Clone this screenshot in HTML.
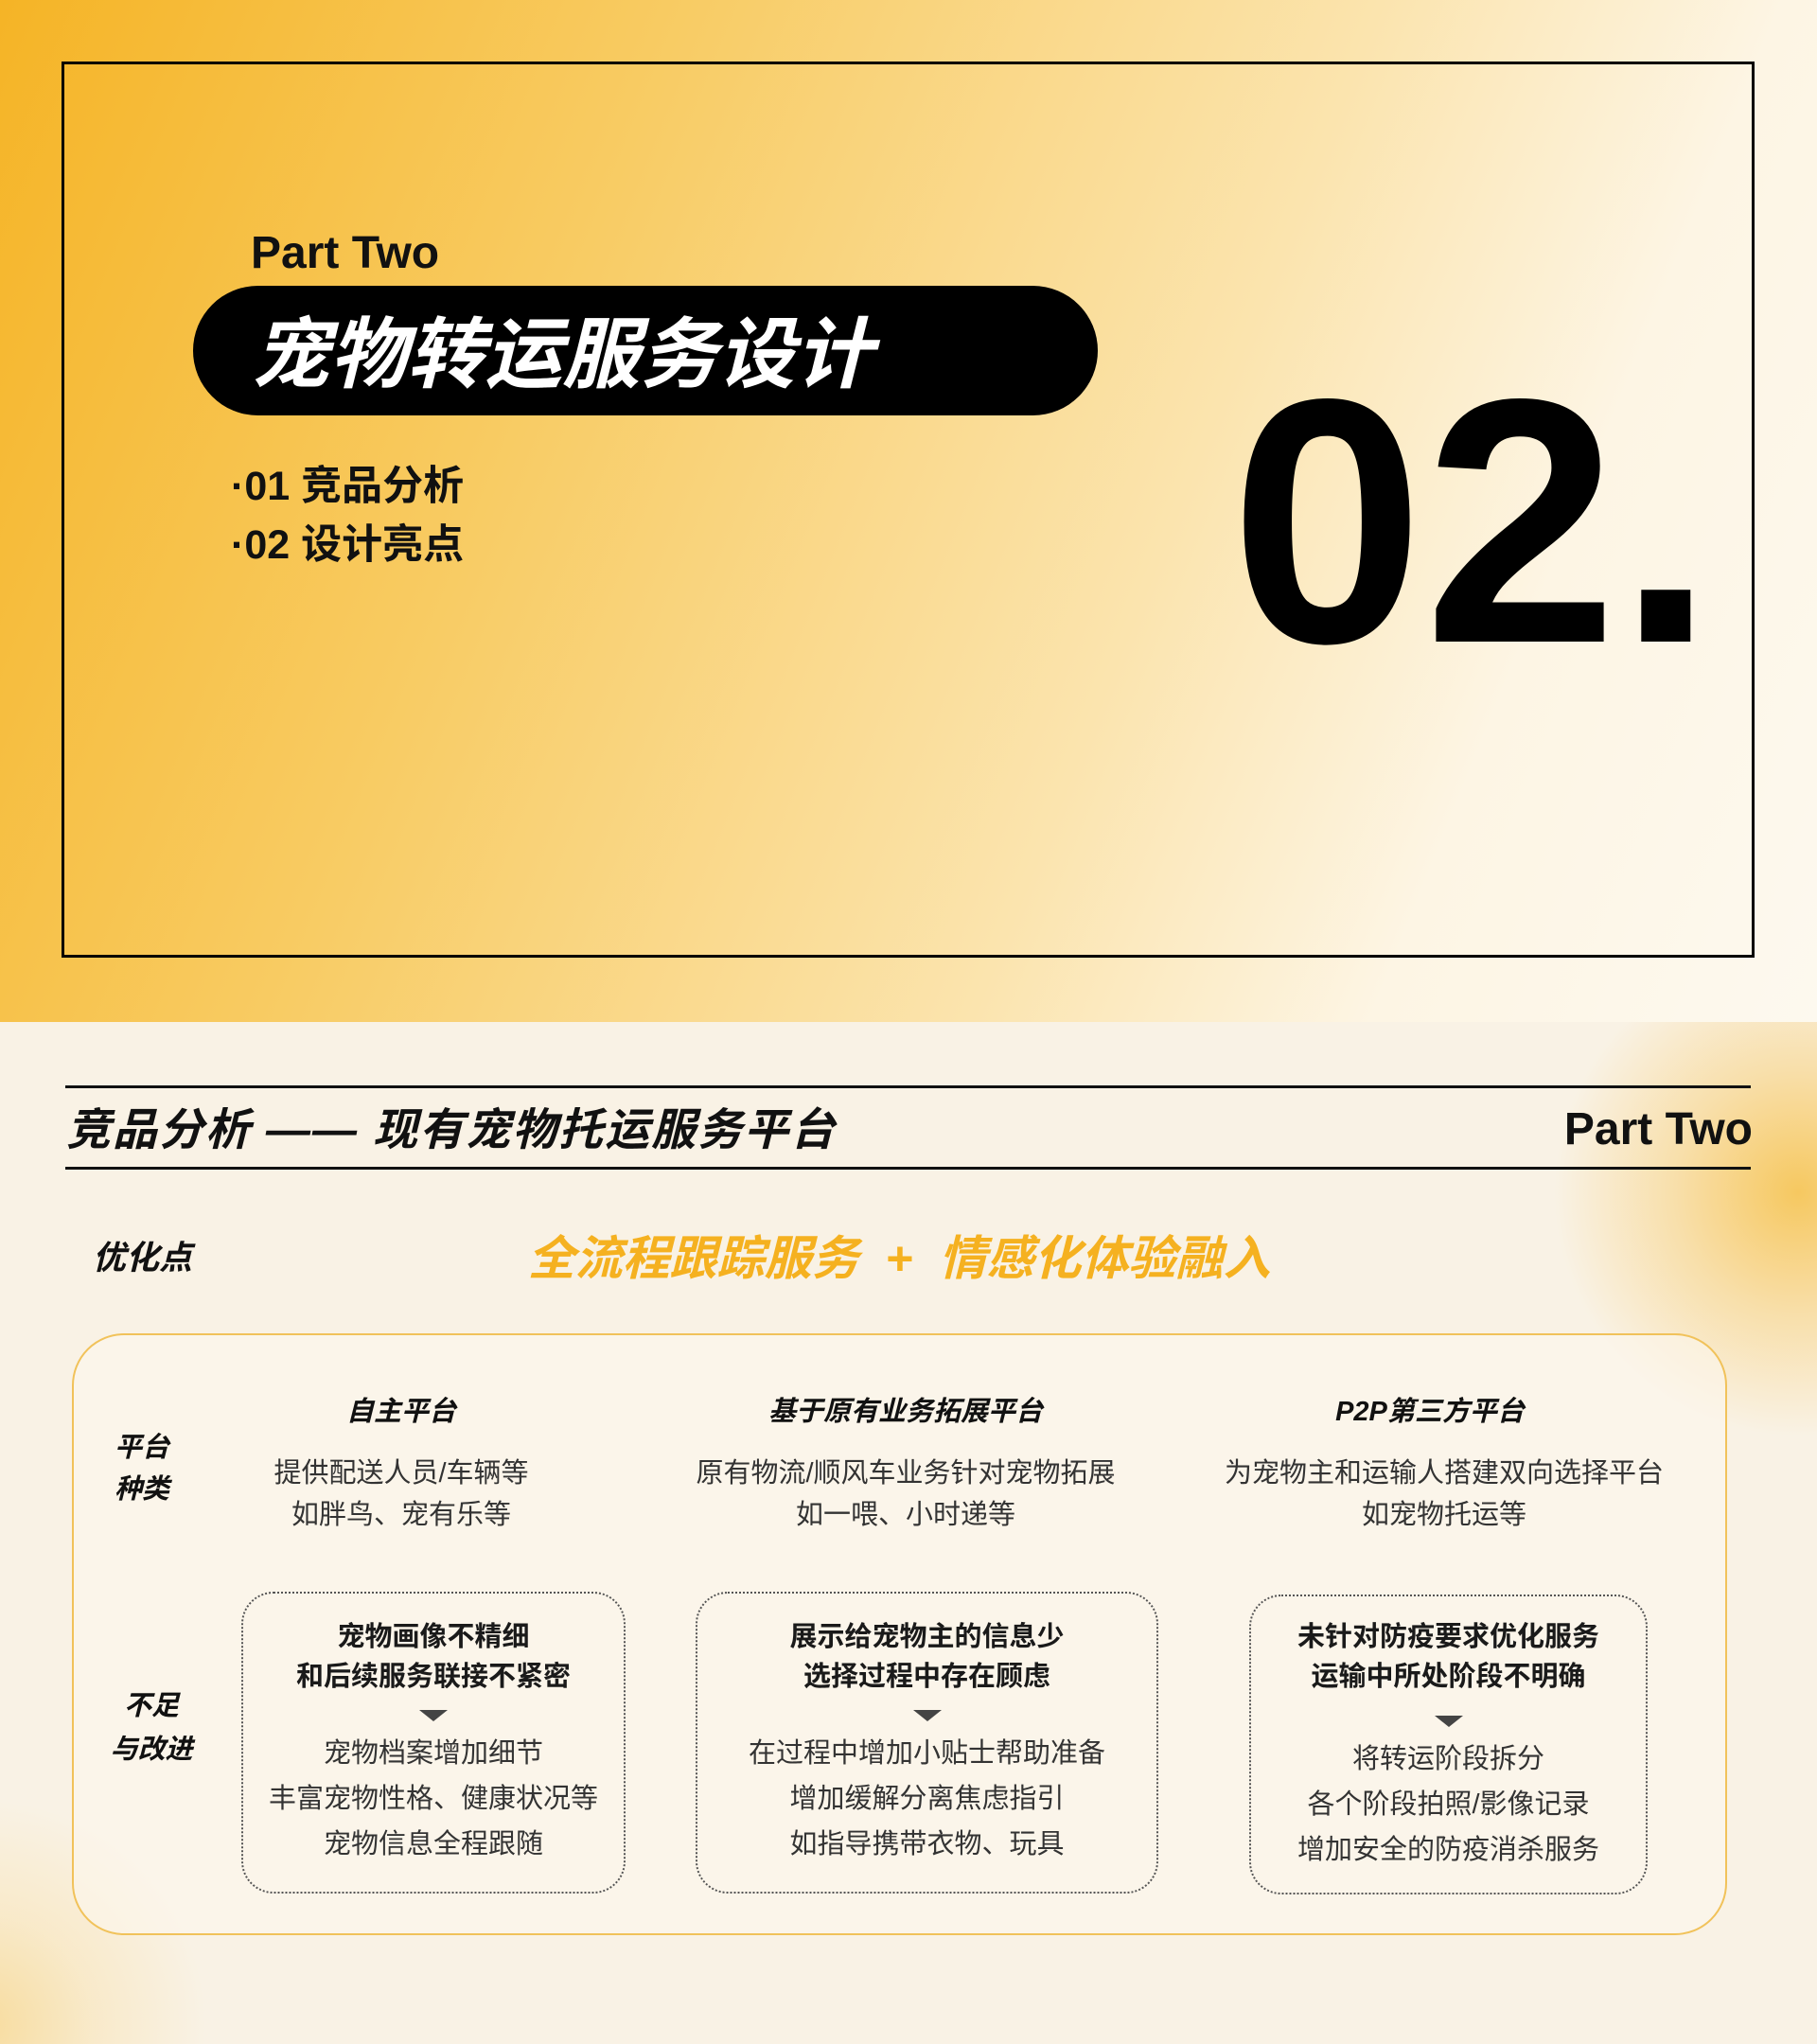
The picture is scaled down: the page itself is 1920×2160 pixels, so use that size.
<!DOCTYPE html>
<html><head><meta charset="utf-8"><style>
*{margin:0;padding:0;box-sizing:border-box}
html,body{width:1920px;height:2160px;overflow:hidden}
body{position:relative;font-family:"Liberation Sans","Noto Sans CJK SC",sans-serif;color:#111}
.a{position:absolute}
.c{text-align:center;white-space:nowrap}
#top{left:0;top:0;width:1920px;height:1080px;background:linear-gradient(112deg,#f5b426 0%,#f8cb62 30%,#fbe4ae 62%,#fdf5e4 80%,#fdf9ef 100%)}
#bot{left:0;top:1080px;width:1920px;height:1080px;background:#f9f2e5;overflow:hidden}
.glow1{left:1640px;top:-80px;width:520px;height:520px;border-radius:50%;background:radial-gradient(circle,#f6c860 0%,rgba(248,210,130,.6) 35%,rgba(249,242,229,0) 70%)}
.glow2{left:-260px;top:820px;width:480px;height:480px;border-radius:50%;background:radial-gradient(circle,rgba(247,210,126,.7) 0%,rgba(248,215,140,.3) 35%,rgba(249,242,229,0) 70%)}
.it{font-style:italic;font-weight:bold}
.desc{font-size:29px;color:#333;line-height:44px}
.dbox{border:2px dotted #555;border-radius:34px}
.btxt{font-size:29px;font-weight:bold;line-height:42px;color:#1a1a1a}
.ntxt{font-size:29px;line-height:48px;color:#333}
.tri{width:0;height:0;border-left:15px solid transparent;border-right:15px solid transparent;border-top:12px solid #444;margin:14px auto 10px}
</style></head><body>
<div id="top" class="a">
  <div class="a" style="left:65px;top:65px;width:1789px;height:947px;border:3px solid #000"></div>
  <div class="a" style="left:265px;top:240px;font-size:48px;font-weight:bold">Part Two</div>
  <div class="a" style="left:204px;top:302px;width:956px;height:137px;border-radius:69px;background:#000"></div>
  <div class="a it" style="left:266px;top:328px;font-size:82px;color:#fff;line-height:96px">宠物转运服务设计</div>
  <div class="a" style="left:244px;top:484px;font-size:43px;font-weight:bold;line-height:60px">·01 竞品分析</div>
  <div class="a" style="left:244px;top:546px;font-size:43px;font-weight:bold;line-height:60px">·02 设计亮点</div>
  <div class="a" style="left:1300px;top:367px;font-size:368px;font-weight:bold;line-height:368px;color:#000">02.</div>
</div>
<div id="bot" class="a">
  <div class="a glow1"></div><div class="a glow2"></div>
  <div class="a" style="left:69px;top:67px;width:1781px;height:3px;background:#111"></div>
  <div class="a it" style="left:70px;top:84px;font-size:47px;line-height:60px;letter-spacing:2px">竞品分析 —— 现有宠物托运服务平台</div>
  <div class="a" style="left:1650px;top:84px;width:202px;text-align:right;font-size:48px;font-weight:bold;line-height:60px">Part Two</div>
  <div class="a" style="left:69px;top:153px;width:1781px;height:3px;background:#111"></div>
  <div class="a it" style="left:98px;top:228px;font-size:35px;line-height:44px">优化点</div>
  <div class="a it c" style="left:540px;top:220px;width:820px;font-size:50px;line-height:60px;color:#f5b120">全流程跟踪服务 &nbsp;+ &nbsp;情感化体验融入</div>
  <div class="a" style="left:76px;top:329px;width:1749px;height:636px;border:2px solid #f1c25a;border-radius:55px;background:rgba(251,246,236,.6)"></div>
  <div class="a it c" style="left:110px;top:428px;width:80px;font-size:29px;line-height:44px">平台<br>种类</div>
  <div class="a it c" style="left:100px;top:700px;width:120px;font-size:29px;line-height:46px">不足<br>与改进</div>

  <div class="a it c" style="left:224px;top:388px;width:400px;font-size:29px">自主平台</div>
  <div class="a c desc" style="left:224px;top:455px;width:400px">提供配送人员/车辆等<br>如胖鸟、宠有乐等</div>
  <div class="a it c" style="left:707px;top:388px;width:500px;font-size:29px">基于原有业务拓展平台</div>
  <div class="a c desc" style="left:687px;top:455px;width:540px">原有物流/顺风车业务针对宠物拓展<br>如一喂、小时递等</div>
  <div class="a it c" style="left:1311px;top:388px;width:400px;font-size:29px">P2P第三方平台</div>
  <div class="a c desc" style="left:1251px;top:455px;width:550px">为宠物主和运输人搭建双向选择平台<br>如宠物托运等</div>

  <div class="a dbox" style="left:255px;top:602px;width:406px;height:319px"></div>
  <div class="a c" style="left:255px;top:629px;width:406px">
    <div class="btxt">宠物画像不精细<br>和后续服务联接不紧密</div><div class="tri"></div>
    <div class="ntxt">宠物档案增加细节<br>丰富宠物性格、健康状况等<br>宠物信息全程跟随</div></div>
  <div class="a dbox" style="left:735px;top:602px;width:489px;height:319px"></div>
  <div class="a c" style="left:735px;top:629px;width:489px">
    <div class="btxt">展示给宠物主的信息少<br>选择过程中存在顾虑</div><div class="tri"></div>
    <div class="ntxt">在过程中增加小贴士帮助准备<br>增加缓解分离焦虑指引<br>如指导携带衣物、玩具</div></div>
  <div class="a dbox" style="left:1320px;top:605px;width:421px;height:317px"></div>
  <div class="a c" style="left:1320px;top:629px;width:421px">
    <div class="btxt">未针对防疫要求优化服务<br>运输中所处阶段不明确</div><div class="tri" style="margin-top:20px"></div>
    <div class="ntxt">将转运阶段拆分<br>各个阶段拍照/影像记录<br>增加安全的防疫消杀服务</div></div>
</div>
</body></html>
